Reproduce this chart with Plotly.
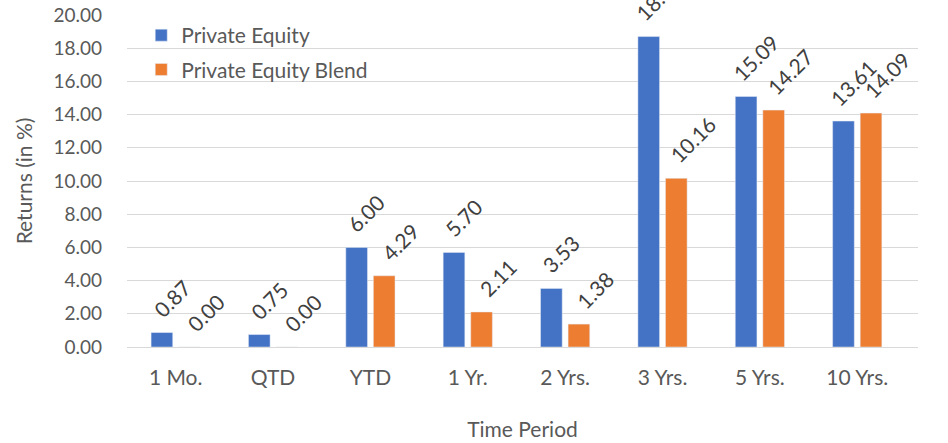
import plotly.graph_objects as go

categories = ["1 Mo.", "QTD", "YTD", "1 Yr.", "2 Yrs.", "3 Yrs.", "5 Yrs.", "10 Yrs."]
private_equity = [0.87, 0.75, 6.00, 5.70, 3.53, 18.70, 15.09, 13.61]
private_equity_blend = [0.00, 0.00, 4.29, 2.11, 1.38, 10.16, 14.27, 14.09]
y_ticks = [0, 2, 4, 6, 8, 10, 12, 14, 16, 18, 20]

FONT = "Lato"
GREY = "#595959"
LABEL = "#404040"
FS_TEXT = 21
FS_NUM = 19
FS_LABEL = 21

fig = go.Figure()
fig.add_trace(go.Bar(
    name="Private Equity", x=categories, y=private_equity,
    marker=dict(color="#4472C4"), legendgroup="a",
))
fig.add_trace(go.Bar(
    name="Private Equity Blend", x=categories, y=private_equity_blend,
    marker=dict(color="#ED7D31"), legendgroup="b",
))

# data labels, rotated, placed above each bar through the axes
for series, shift in ((private_equity, -4), (private_equity_blend, 30)):
    for cat, val in zip(categories, series):
        fig.add_annotation(
            x=cat, y=val, xref="x", yref="y",
            text=f"{val:.2f}", showarrow=False, textangle=-45,
            xanchor="center", yanchor="bottom", xshift=shift, yshift=8,
            font=dict(family=FONT, size=FS_LABEL, color=LABEL),
        )

fig.update_layout(
    width=948, height=443, autosize=False,
    margin=dict(l=127, r=30, t=15, b=96, autoexpand=False),
    paper_bgcolor="white", plot_bgcolor="white",
    barmode="group", bargap=0.434, bargroupgap=0.214,
    font=dict(family=FONT, color=GREY, size=FS_TEXT),
    legend=dict(
        x=0.018, y=1.0, xanchor="left", yanchor="top",
        bgcolor="rgba(0,0,0,0)", font=dict(size=FS_TEXT, color=GREY),
        tracegroupgap=4, traceorder="grouped",
    ),
    xaxis=dict(
        title=dict(text="Time Period", font=dict(size=FS_TEXT, color=GREY), standoff=34),
        showgrid=False, showline=False, zeroline=False, automargin=False,
        tickfont=dict(size=FS_TEXT, color=GREY),
        ticks="", ticklabelstandoff=16,
    ),
    yaxis=dict(
        title=dict(text="Returns (in %)", font=dict(size=FS_TEXT, color=GREY), standoff=15),
        range=[0, 20], tickvals=y_ticks, tickformat=".2f",
        showgrid=True, gridcolor="#D9D9D9", gridwidth=1,
        zeroline=True, zerolinecolor="#D9D9D9", zerolinewidth=1,
        showline=False, ticks="", ticklabelstandoff=24, automargin=False,
        tickfont=dict(size=FS_NUM, color=GREY),
    ),
)

fig.write_html(
    "out.html",
    config={"displayModeBar": False, "responsive": False},
    default_width="948px", default_height="443px",
    post_script=(
        "document.body.style.margin='0';"
        "document.body.style.overflow='hidden';"
        "document.documentElement.style.overflow='hidden';"
    ),
)
